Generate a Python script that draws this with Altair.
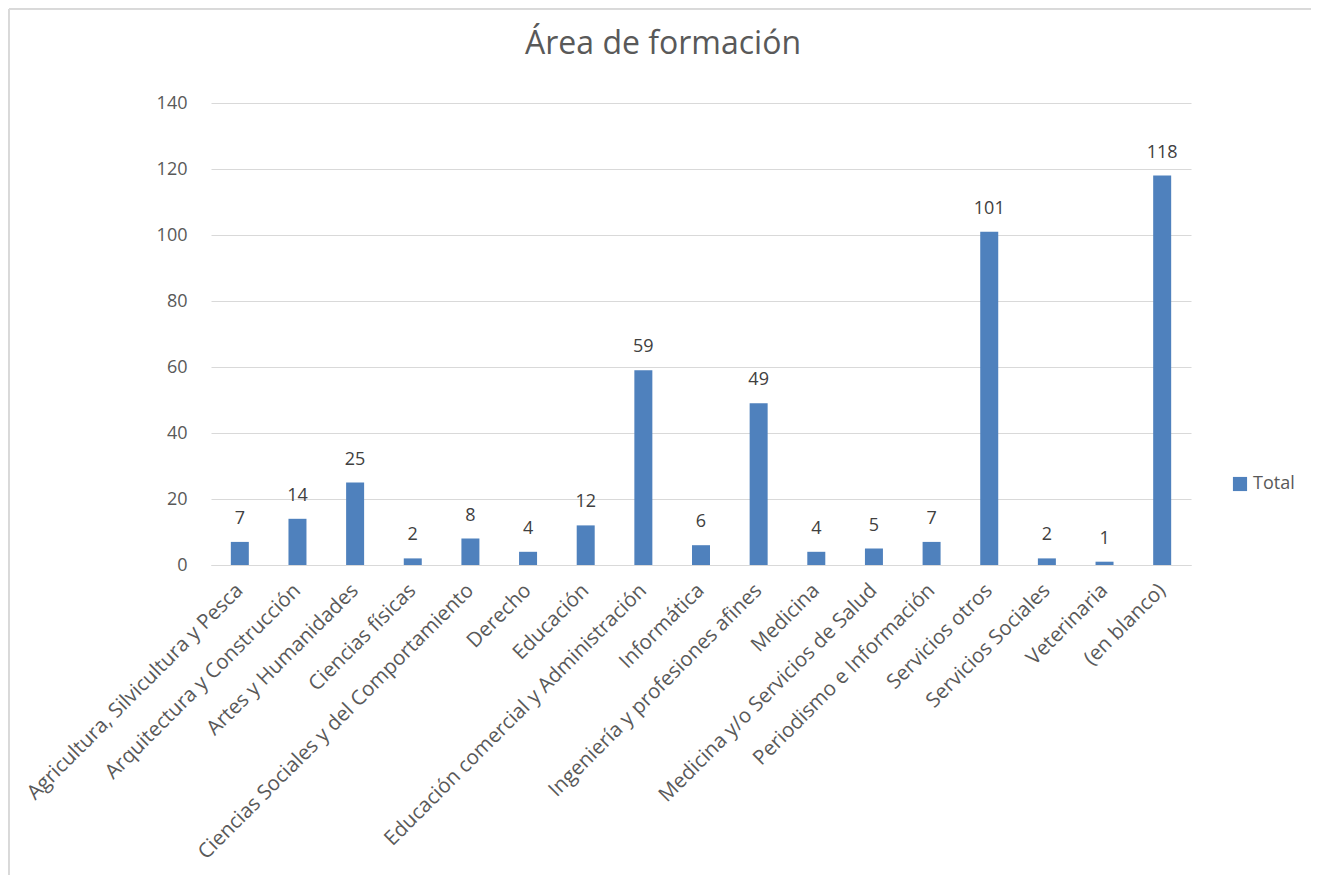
import altair as alt
import pandas as pd

categorias = [
    "Agricultura, Silvicultura y Pesca",
    "Arquitectura y Construcción",
    "Artes y Humanidades",
    "Ciencias físicas",
    "Ciencias Sociales y del Comportamiento",
    "Derecho",
    "Educación",
    "Educación comercial y Administración",
    "Informática",
    "Ingeniería y profesiones afines",
    "Medicina",
    "Medicina y/o Servicios de Salud",
    "Periodismo e Información",
    "Servicios otros",
    "Servicios Sociales",
    "Veterinaria",
    "(en blanco)",
]
totales = [7, 14, 25, 2, 8, 4, 12, 59, 6, 49, 4, 5, 7, 101, 2, 1, 118]
y_ticks = [0, 20, 40, 60, 80, 100, 120, 140]

df = pd.DataFrame({"area": categorias, "total": totales, "serie": ["Total"] * len(categorias)})

FONT = "Open Sans"
GRAY = "#595959"
BLUE = "#4F81BD"

x_enc = alt.X(
    "area:N",
    sort=categorias,
    scale=alt.Scale(paddingInner=0.69, paddingOuter=0.345),
    axis=alt.Axis(
        title=None,
        labelAngle=315,
        labelAlign="right",
        labelBaseline="middle",
        labelFontSize=20.5,
        labelColor=GRAY,
        labelFont=FONT,
        ticks=False,
        domainColor="#d9d9d9",
        domainWidth=1,
        labelPadding=22,
        labelLimit=0,
        grid=False,
    ),
)
y_enc = alt.Y(
    "total:Q",
    scale=alt.Scale(domain=[0, 140], nice=False),
    axis=alt.Axis(
        title=None,
        values=y_ticks,
        labelFontSize=18,
        labelColor=GRAY,
        labelFont=FONT,
        ticks=False,
        domain=False,
        gridColor="#d9d9d9",
        gridWidth=1,
        labelPadding=24,
    ),
)

bars = alt.Chart(df).mark_bar(size=18).encode(
    x=x_enc,
    y=y_enc,
    color=alt.Color(
        "serie:N",
        scale=alt.Scale(range=[BLUE]),
        legend=alt.Legend(
            title=None,
            orient="none",
            legendX=1020,
            legendY=372,
            symbolType="square",
            symbolSize=200,
            symbolStrokeWidth=0,
            labelFontSize=18,
            labelColor=GRAY,
            labelFont=FONT,
        ),
    ),
)

labels = alt.Chart(df).mark_text(
    baseline="alphabetic", dy=-18, fontSize=18, font=FONT, color="#404040"
).encode(
    x=alt.X("area:N", sort=categorias),
    y="total:Q",
    text="total:Q",
)

border = alt.Chart(df).mark_rect(
    fill=None, stroke="#d9d9d9", strokeWidth=1
).encode(
    x=alt.value(-202), x2=alt.value(1115), y=alt.value(-94), y2=alt.value(782)
)

chart = alt.layer(bars, labels, border).properties(
    width=980,
    height=462,
    title=alt.TitleParams(
        "Área de formación",
        fontSize=32,
        font=FONT,
        fontWeight="normal",
        color=GRAY,
        anchor="middle",
        dx=-38,
        offset=-52,
    ),
    autosize=alt.AutoSizeParams(type="none"),
    padding={"left": 203, "top": 95, "right": 120, "bottom": 310},
).configure_view(stroke=None)

chart.save("out.html", embed_options={"renderer": "svg", "actions": False})
